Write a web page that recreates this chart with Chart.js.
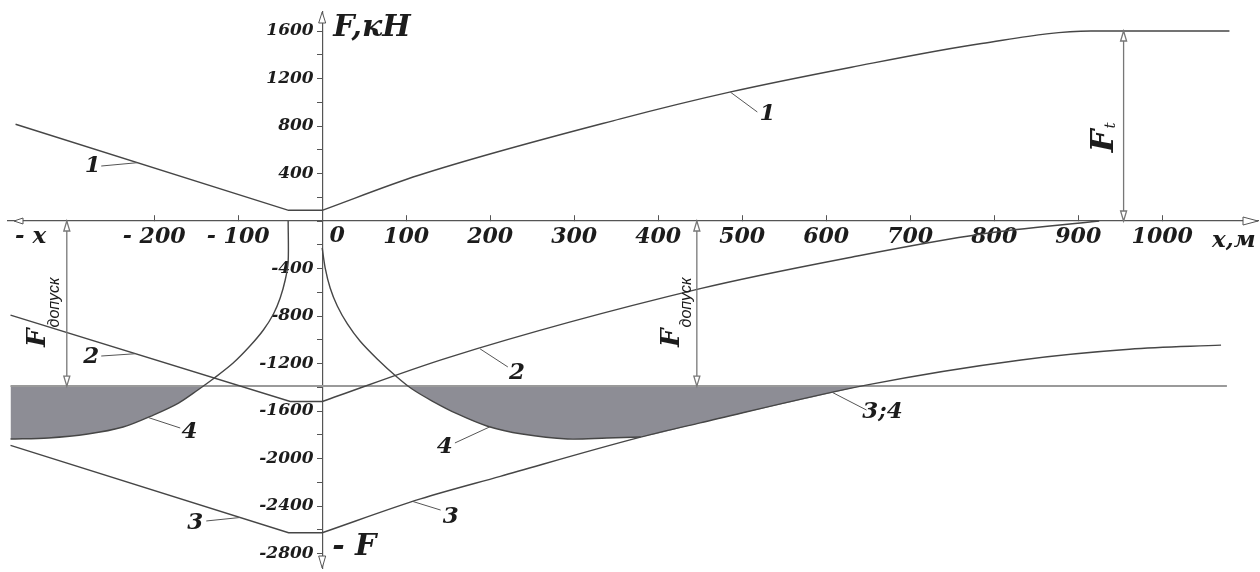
<!DOCTYPE html>
<html>
<head>
<meta charset="utf-8">
<title>F(x)</title>
<script src="https://cdn.jsdelivr.net/npm/chart.js@4.4.1/dist/chart.umd.min.js"></script>
<style>
  html, body { margin: 0; padding: 0; background: #fff; }
  #wrap { position: relative; width: 1260px; height: 572px; }
</style>
</head>
<body>
<div id="wrap"><canvas id="chart"></canvas></div>
<script>
// axis ranges and ticks (x in m, F in kN)
const xMin = -374, xMax = 1114;
const yMin = -2922, yMax = 1760;
const xTicks = [-200, -100, 0, 100, 200, 300, 400, 500, 600, 700, 800, 900, 1000];
const yTicks = [-2800, -2600, -2400, -2200, -2000, -1800, -1600, -1400, -1200, -1000, -800, -600, -400, -200,
  0, 200, 400, 600, 800, 1000, 1200, 1400, 1600];

// levels
const fT = 1600;
const fDop = -1390;

// curve 1
const x1Left = [-365, -40, 0];
const f1Left = [815, 90, 90];
const x1Right = [0, 115, 355, 485, 630, 785, 915, 1080];
const f1Right = [90, 385, 860, 1085, 1295, 1495, 1600, 1600];

// curve 2
const x2Left = [-371, -38, 0];
const f2Left = [-792, -1520, -1520];
const x2Right = [0, 150, 450, 630, 785, 925];
const f2Right = [-1520, -1150, -570, -305, -110, 0];

// curve 3
const x3Left = [-371, -40, 0];
const f3Left = [-1890, -2625, -2625];
const x3Right = [0, 117, 212, 379, 450, 649, 832, 961, 1070];
const f3Right = [-2625, -2340, -2150, -1820, -1700, -1380, -1170, -1080, -1045];

// curve 4
const x4Left = [-40.5, -40.5, -44, -50, -58, -70, -86, -106, -130, -148, -171, -201, -237, -279, -326, -371];
const f4Left = [0, -345, -497, -648, -783, -918, -1053, -1196, -1331, -1423, -1533, -1634, -1735, -1794, -1827, -1836];
const x4Right = [0, 3.6, 9.5, 18, 30, 45, 65.5, 89, 107, 131, 161, 196, 238, 292, 339, 379];
const f4Right = [-227, -396, -564, -716, -867, -1011, -1162, -1314, -1415, -1516, -1625, -1726, -1794, -1836, -1827, -1819];

// shaded zones below F_dop
const xShadeL = [-142, -148, -171, -201, -237, -279, -326, -371];
const fShadeL = [-1390, -1423, -1533, -1634, -1735, -1794, -1827, -1836];
const xShadeR = [102, 107, 131, 161, 196, 238, 292, 339, 379, 450, 643];
const fShadeR = [-1390, -1415, -1516, -1625, -1726, -1794, -1836, -1827, -1819, -1700, -1390];

// F_dop line ends
const xDopLine = [-371, 1077];

// dimension lines
const xFt = 954;
const xDopL = -304;
const xDopR = 446;

const pts = (xs, ys) => xs.map((v, i) => ({ x: v, y: ys[i] }));

const LINE = '#464646';
const TXT = '#1c1c1c';
const SERIF = '"DejaVu Serif", "Liberation Serif", serif';

function curve(data, opts) {
  return Object.assign({
    data: data,
    borderColor: LINE,
    borderWidth: 1.4,
    pointRadius: 0,
    fill: false,
    tension: 0
  }, opts || {});
}

// curve numbers with leader lines (data units)
const callouts = [
  { text: '1', at: [-273, 459], from: [-263, 463], to: [-220, 491] },
  { text: '1', at: [530, 901], from: [518, 918], to: [486, 1085] },
  { text: '2', at: [-275, -1148], from: [-263, -1137], to: [-223, -1118] },
  { text: '2', at: [232, -1280], from: [221, -1229], to: [188, -1077] },
  { text: '3', at: [-151, -2543], from: [-138, -2526], to: [-98, -2497] },
  { text: '3', at: [153, -2490], from: [141, -2434], to: [108, -2362] },
  { text: '4', at: [-158, -1777], from: [-169, -1743], to: [-207, -1655] },
  { text: '4', at: [146, -1903], from: [158, -1869], to: [200, -1732] },
  { text: '3;4', at: [667, -1608], from: [648, -1592], to: [608, -1446] }
];

function hollowArrow(ctx, tx, ty, dir, len, half) {
  ctx.beginPath();
  ctx.moveTo(tx, ty);
  if (dir === 'up') { ctx.lineTo(tx - half, ty + len); ctx.lineTo(tx + half, ty + len); }
  if (dir === 'down') { ctx.lineTo(tx - half, ty - len); ctx.lineTo(tx + half, ty - len); }
  if (dir === 'left') { ctx.lineTo(tx + len, ty - half); ctx.lineTo(tx + len, ty + half); }
  if (dir === 'right') { ctx.lineTo(tx - len, ty - half); ctx.lineTo(tx - len, ty + half); }
  ctx.closePath();
  ctx.fillStyle = '#fff';
  ctx.fill();
  ctx.stroke();
}

// rotated "F" with subscript, reading bottom to top
function rotatedLabel(ctx, bx, by, main, sub, mainSize, subFont, drop) {
  ctx.save();
  ctx.translate(bx, by);
  ctx.rotate(-Math.PI / 2);
  ctx.textAlign = 'left';
  ctx.textBaseline = 'alphabetic';
  ctx.font = 'bold italic ' + mainSize + 'px ' + SERIF;
  ctx.fillText(main, 0, 0);
  const w = ctx.measureText(main).width;
  ctx.font = subFont;
  ctx.fillText(sub, w + 1, drop);
  ctx.restore();
}

const schemeNotes = {
  id: 'schemeNotes',
  afterDraw(chart) {
    const { ctx, scales } = chart;
    const sx = scales.x, sy = scales.y;
    const px = v => sx.getPixelForValue(v);
    const py = v => sy.getPixelForValue(v);
    const x0 = px(0), y0 = py(0);

    ctx.save();
    ctx.lineWidth = 1;
    ctx.strokeStyle = '#555';

    // axis arrowheads
    hollowArrow(ctx, sx.right, y0, 'right', 15, 4);
    hollowArrow(ctx, sx.left + 6, y0, 'left', 9, 3);
    hollowArrow(ctx, x0, sy.top, 'up', 11, 3.5);
    hollowArrow(ctx, x0, sy.bottom, 'down', 12, 3.5);

    // dimension lines F_t and F_dop
    ctx.strokeStyle = '#777';
    ctx.lineWidth = 1.3;
    const dims = [[xFt, 0, fT], [xDopL, 0, fDop], [xDopR, 0, fDop]];
    dims.forEach(d => {
      const x = px(d[0]);
      const top = Math.min(py(d[1]), py(d[2]));
      const bot = Math.max(py(d[1]), py(d[2]));
      ctx.beginPath();
      ctx.moveTo(x, top);
      ctx.lineTo(x, bot);
      ctx.stroke();
      hollowArrow(ctx, x, top, 'up', 10, 3);
      hollowArrow(ctx, x, bot, 'down', 10, 3);
    });

    // leader lines and curve numbers
    ctx.strokeStyle = '#555';
    ctx.lineWidth = 1;
    ctx.fillStyle = TXT;
    ctx.font = 'bold italic 23px ' + SERIF;
    ctx.textAlign = 'center';
    ctx.textBaseline = 'middle';
    callouts.forEach(c => {
      ctx.beginPath();
      ctx.moveTo(px(c.from[0]), py(c.from[1]));
      ctx.lineTo(px(c.to[0]), py(c.to[1]));
      ctx.stroke();
      ctx.fillText(c.text, px(c.at[0]), py(c.at[1]));
    });

    // zero of the x axis, set off to the right of the F axis
    ctx.font = 'bold italic 22px ' + SERIF;
    ctx.fillText('0', x0 + 15, y0 + 15);

    // axis names
    ctx.textAlign = 'left';
    ctx.textBaseline = 'alphabetic';
    ctx.font = 'bold italic 30px ' + SERIF;
    ctx.fillText('F,кН', x0 + 11, sy.top + 24);
    ctx.fillText('- F', x0 + 10, sy.bottom - 13);
    ctx.font = 'bold italic 23px ' + SERIF;
    ctx.fillText('x,м', sx.right - 46, y0 + 26);
    ctx.fillText('- x', sx.left + 7, y0 + 22);

    // dimension labels
    rotatedLabel(ctx, px(xFt) - 11, py(580), 'F', 't', 32, 'italic 15px ' + SERIF, 2);
    const subFont = 'italic 16px "Liberation Sans", sans-serif';
    rotatedLabel(ctx, px(xDopL) - 22, py(-1060), 'F', 'допуск', 26, subFont, 14);
    rotatedLabel(ctx, px(xDopR) - 18, py(-1060), 'F', 'допуск', 26, subFont, 12);

    ctx.restore();
  }
};

const tickFont = { family: SERIF, style: 'italic', weight: 'bold' };

new Chart(document.getElementById('chart'), {
  type: 'line',
  data: {
    datasets: [
      curve(pts(x1Left, f1Left)),
      curve(pts(x1Right, f1Right), { cubicInterpolationMode: 'monotone' }),
      curve(pts(x2Left, f2Left)),
      curve(pts(x2Right, f2Right), { cubicInterpolationMode: 'monotone' }),
      curve(pts(x3Left, f3Left)),
      curve(pts(x3Right, f3Right), { cubicInterpolationMode: 'monotone' }),
      curve(pts(x4Left, f4Left), { tension: 0.3 }),
      curve(pts(x4Right, f4Right), { tension: 0.3 }),
      curve(pts(xDopLine, [fDop, fDop]), { borderColor: '#9a9a9a', borderWidth: 2 }),
      curve(pts(xShadeL, fShadeL), { borderWidth: 0, tension: 0.3, fill: { value: fDop }, backgroundColor: '#8d8d95' }),
      curve(pts(xShadeR, fShadeR), { borderWidth: 0, tension: 0.3, fill: { value: fDop }, backgroundColor: '#8d8d95' })
    ]
  },
  options: {
    responsive: true,
    maintainAspectRatio: false,
    devicePixelRatio: 1,
    animation: false,
    events: [],
    layout: { padding: { left: 8, right: 2, top: 12, bottom: 4 } },
    plugins: {
      legend: { display: false },
      tooltip: { enabled: false },
      title: { display: false }
    },
    scales: {
      x: {
        type: 'linear',
        min: xMin,
        max: xMax,
        position: { y: 0 },
        afterBuildTicks: s => { s.ticks = xTicks.map(v => ({ value: v })); },
        // tick marks point up from the axis, as on the drawing
        grid: { drawOnChartArea: false, drawTicks: true, tickLength: -6, color: '#555' },
        border: { display: true, color: '#555', width: 1.2 },
        ticks: {
          autoSkip: false,
          maxRotation: 0,
          padding: 9,
          color: TXT,
          font: Object.assign({ size: 22 }, tickFont),
          callback: v => v === 0 ? '' : (v < 0 ? '- ' + Math.abs(v) : String(v))
        }
      },
      y: {
        type: 'linear',
        min: yMin,
        max: yMax,
        position: { x: 0 },
        afterBuildTicks: s => { s.ticks = yTicks.map(v => ({ value: v })); },
        grid: { drawOnChartArea: false, drawTicks: true, tickLength: 5, color: '#555' },
        border: { display: true, color: '#555', width: 1.2 },
        ticks: {
          autoSkip: false,
          padding: 0,
          color: TXT,
          // small line height keeps the end labels from shrinking the plot area
          font: Object.assign({ size: 17, lineHeight: 0.25 }, tickFont),
          callback: v => (v === 0 || v % 400 !== 0) ? '' : String(v) + '\u2002'
        }
      }
    }
  },
  plugins: [schemeNotes]
});
</script>
</body>
</html>
